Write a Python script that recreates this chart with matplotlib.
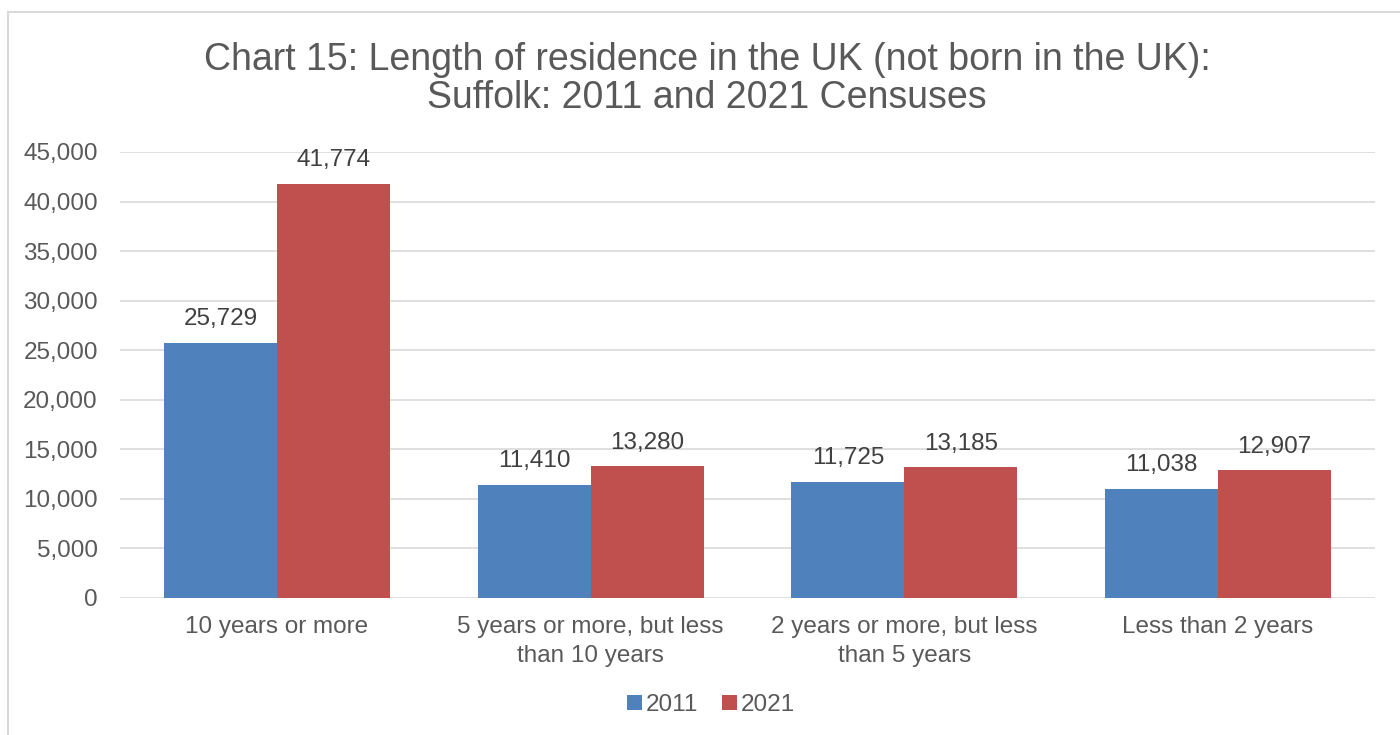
import matplotlib
matplotlib.use("Agg")
import matplotlib.pyplot as plt
from matplotlib.patches import Rectangle
import numpy as np

categories = ["10 years or more", "5 years or more, but less\nthan 10 years",
              "2 years or more, but less\nthan 5 years", "Less than 2 years"]
values_2011 = [25729, 11410, 11725, 11038]
values_2021 = [41774, 13280, 13185, 12907]
series_names = ["2011", "2021"]
yticks = [0, 5000, 10000, 15000, 20000, 25000, 30000, 35000, 40000, 45000]

plt.rcParams['font.family'] = ['Liberation Sans', 'DejaVu Sans']
TXT = '#595959'
FS = 17.5

fig = plt.figure(figsize=(14, 7.35), dpi=100)
fig.patches.append(Rectangle((8/1400, -0.1), 1.2, (735-12)/735 + 0.1, transform=fig.transFigure,
                             fill=False, edgecolor='#d9d9d9', linewidth=1.5, zorder=0))
ax = fig.add_axes([120/1400, 1 - 598/735, (1375-120)/1400, (598-152)/735])

x = np.arange(len(categories))
w = 0.36
b1 = ax.bar(x - w/2, values_2011, w, color='#4F81BD', label=series_names[0], zorder=2)
b2 = ax.bar(x + w/2, values_2021, w, color='#C0504D', label=series_names[1], zorder=2)
for bars, vals in ((b1, values_2011), (b2, values_2021)):
    for r, v in zip(bars, vals):
        ax.annotate(f"{v:,}", (r.get_x() + r.get_width()/2, v), xytext=(0, 9),
                    textcoords='offset points', ha='center', va='bottom', fontsize=FS, color='#404040')

ax.set_xlim(-0.5, len(categories) - 0.5)
ax.set_ylim(0, 45000)
ax.set_yticks(yticks)
ax.set_yticklabels([f"{t:,}" for t in yticks], fontsize=FS, color=TXT)
ax.set_xticks(x)
ax.set_xticklabels(categories, fontsize=FS, color=TXT, linespacing=1.4)
ax.tick_params(axis='both', length=0)
ax.tick_params(axis='x', pad=13)
ax.tick_params(axis='y', pad=16)
ax.grid(axis='y', color='#d9d9d9', linewidth=1.2, zorder=0)
for s in ax.spines.values():
    s.set_visible(False)

fig.text(707/1400, 1 - 79/735, "Chart 15: Length of residence in the UK (not born in the UK):\nSuffolk: 2011 and 2021 Censuses",
         ha='center', va='center', fontsize=27, color=TXT, linespacing=1.1)

leg = fig.legend(handles=[b1, b2], labels=series_names, loc='center', bbox_to_anchor=(711/1400, 1 - 705/735),
                 ncol=2, frameon=False, fontsize=FS, handlelength=0.6, handleheight=0.6,
                 handletextpad=0.15, columnspacing=1.0)
for t in leg.get_texts():
    t.set_color(TXT)

fig.savefig("out.png", dpi=100)
